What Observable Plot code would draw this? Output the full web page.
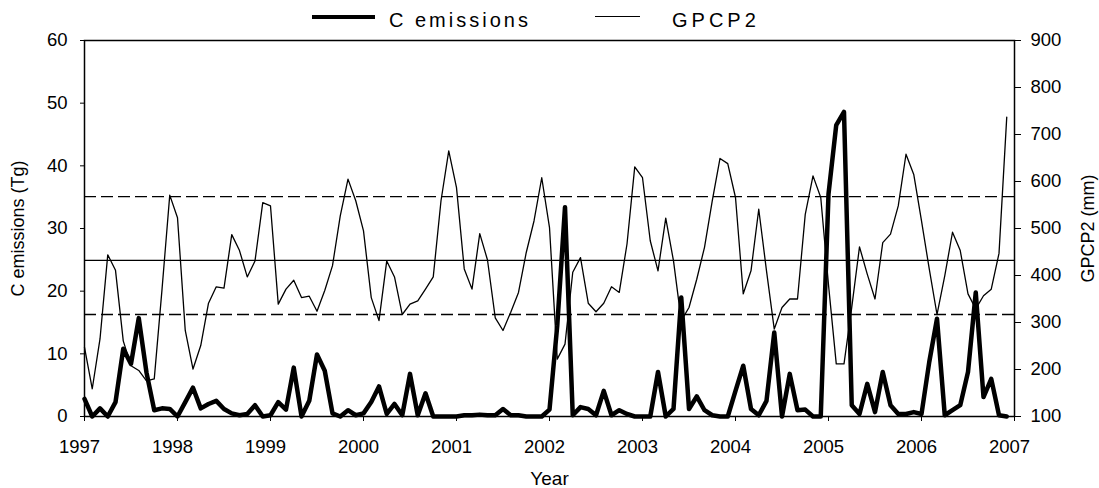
<!DOCTYPE html>
<html><head><meta charset="utf-8">
<script src="https://cdn.jsdelivr.net/npm/d3@7"></script>
<script src="https://cdn.jsdelivr.net/npm/@observablehq/plot@0.6"></script>
<style>
body{margin:0;background:#fff;font-family:Arial,"Liberation Sans",sans-serif;}
#legend{position:relative;width:1099px;height:30px;}
.sw{position:absolute;height:0;border-top-style:solid;border-top-color:#000;}
.lb{position:absolute;top:8px;font-size:20px;line-height:24px;color:#000;white-space:nowrap;}
</style></head><body>
<div id="legend">
  <div class="sw" style="left:312px;top:15px;width:63px;border-top-width:4px;"></div>
  <div class="lb" style="left:389px;letter-spacing:3px;">C emissions</div>
  <div class="sw" style="left:595px;top:16px;width:45px;border-top-width:1.3px;"></div>
  <div class="lb" style="left:672px;letter-spacing:4px;">GPCP2</div>
</div>
<div id="chart"></div>
<script>
const startYear = 1997;
// monthly values, Jan 1997 .. Dec 2006
const cEmissions = [
  2.8, 0, 1.3, 0, 2.3, 10.8, 8.4, 15.7, 7.0, 1.0, 1.3, 1.2,
  0, 2.3, 4.6, 1.3, 2.0, 2.5, 1.2, 0.5, 0.2, 0.4, 1.8, 0,
  0.2, 2.3, 1.1, 7.8, 0, 2.5, 9.9, 7.3, 0.5, 0, 1.0, 0.2,
  0.5, 2.3, 4.8, 0.4, 2.0, 0.2, 6.8, 0.2, 3.7, 0, 0, 0,
  0, 0.2, 0.2, 0.3, 0.2, 0.2, 1.2, 0.2, 0.2, 0, 0, 0,
  1.1, 14.5, 33.4, 0.2, 1.5, 1.2, 0.2, 4.1, 0.2, 1.0, 0.4, 0,
  0, 0, 7.1, 0, 1.2, 19.0, 1.2, 3.2, 1.0, 0.2, 0, 0,
  4.1, 8.1, 1.2, 0.2, 2.5, 13.4, 0, 6.8, 1.0, 1.1, 0, 0,
  35.5, 46.5, 48.6, 1.8, 0.4, 5.2, 0.7, 7.1, 1.8, 0.4, 0.4, 0.7,
  0.4, 8.7, 15.6, 0.2, 1.0, 1.8, 7.1, 19.8, 3.1, 6.0, 0.2, 0
];
const gpcp2 = [
  247, 159, 265, 444, 411, 261, 208, 198, 176, 180, 370, 571,
  523, 283, 201, 251, 341, 376, 373, 487, 453, 397, 431, 555,
  548, 339, 371, 390, 353, 356, 324, 368, 421, 527, 605, 559,
  495, 353, 304, 431, 397, 317, 339, 346, 371, 397, 559, 665,
  587, 414, 371, 489, 433, 310, 283, 322, 364, 449, 516, 608,
  502, 222, 254, 407, 438, 341, 323, 341, 376, 364, 467, 631,
  608, 474, 410, 522, 431, 304, 332, 392, 460, 559, 649, 638,
  566, 361, 410, 541, 410, 286, 332, 350, 350, 530, 612, 566,
  380, 212, 212, 332, 461, 403, 350, 470, 488, 548, 658, 615,
  516, 414, 317, 399, 492, 453, 361, 329, 357, 371, 447, 737
];
const gpcpMean = [432];
const gpcpBand = [568, 317];
const xTicks = [1997, 1998, 1999, 2000, 2001, 2002, 2003, 2004, 2005, 2006, 2007];
const leftTicks = [0, 10, 20, 30, 40, 50, 60];
const rightTicks = [100, 200, 300, 400, 500, 600, 700, 800, 900];
const leftDomain = [0, 60];
const rightDomain = [100, 900];

const toLeft = g => (g - rightDomain[0]) / (rightDomain[1] - rightDomain[0]) * (leftDomain[1] - leftDomain[0]) + leftDomain[0];
const toRight = v => (v - leftDomain[0]) / (leftDomain[1] - leftDomain[0]) * (rightDomain[1] - rightDomain[0]) + rightDomain[0];

const data = cEmissions.map((c, i) => ({t: startYear + i / 12, c, g: gpcp2[i]}));

const chart = Plot.plot({
  width: 1099, height: 458,
  marginTop: 10, marginBottom: 72, marginLeft: 84, marginRight: 85,
  style: {fontFamily: "Arial, 'Liberation Sans', sans-serif", fontSize: "18.5px", color: "#000", background: "#fff"},
  x: {domain: [1997, 2007]},
  y: {domain: leftDomain},
  marks: [
    Plot.ruleY(gpcpBand.map(toLeft), {stroke: "#000", strokeWidth: 1.3, strokeDasharray: "12,5"}),
    Plot.ruleY(gpcpMean.map(toLeft), {stroke: "#000", strokeWidth: 1.3}),
    Plot.lineY(data, {x: "t", y: d => toLeft(d.g), stroke: "#000", strokeWidth: 1.3}),
    Plot.lineY(data, {x: "t", y: "c", stroke: "#000", strokeWidth: 4.5}),
    Plot.frame({stroke: "#000", strokeWidth: 1.5}),
    Plot.axisX({ticks: xTicks, tickSize: 5, tickFormat: () => "", label: null}),
    Plot.axisX({ticks: xTicks, tickSize: 0, tickPadding: 23, dx: -5, tickFormat: d => String(d), label: null}),
    Plot.axisY({ticks: leftTicks, tickSize: 4, tickPadding: 13, label: null}),
    Plot.axisY({anchor: "right", ticks: rightTicks.map(toLeft), tickFormat: v => String(Math.round(toRight(v))), tickSize: 6, tickPadding: 10, label: null}),
    Plot.text(["C emissions (Tg)"], {frameAnchor: "left", textAnchor: "middle", lineAnchor: "middle", dx: -66, rotate: -90, fontSize: 18}),
    Plot.text(["GPCP2 (mm)"], {frameAnchor: "right", textAnchor: "middle", lineAnchor: "middle", dx: 74, rotate: -90, fontSize: 18}),
    Plot.text(["Year"], {frameAnchor: "bottom", textAnchor: "middle", lineAnchor: "middle", dy: 62, fontSize: 19})
  ]
});
document.getElementById("chart").appendChild(chart);
</script>
</body></html>
